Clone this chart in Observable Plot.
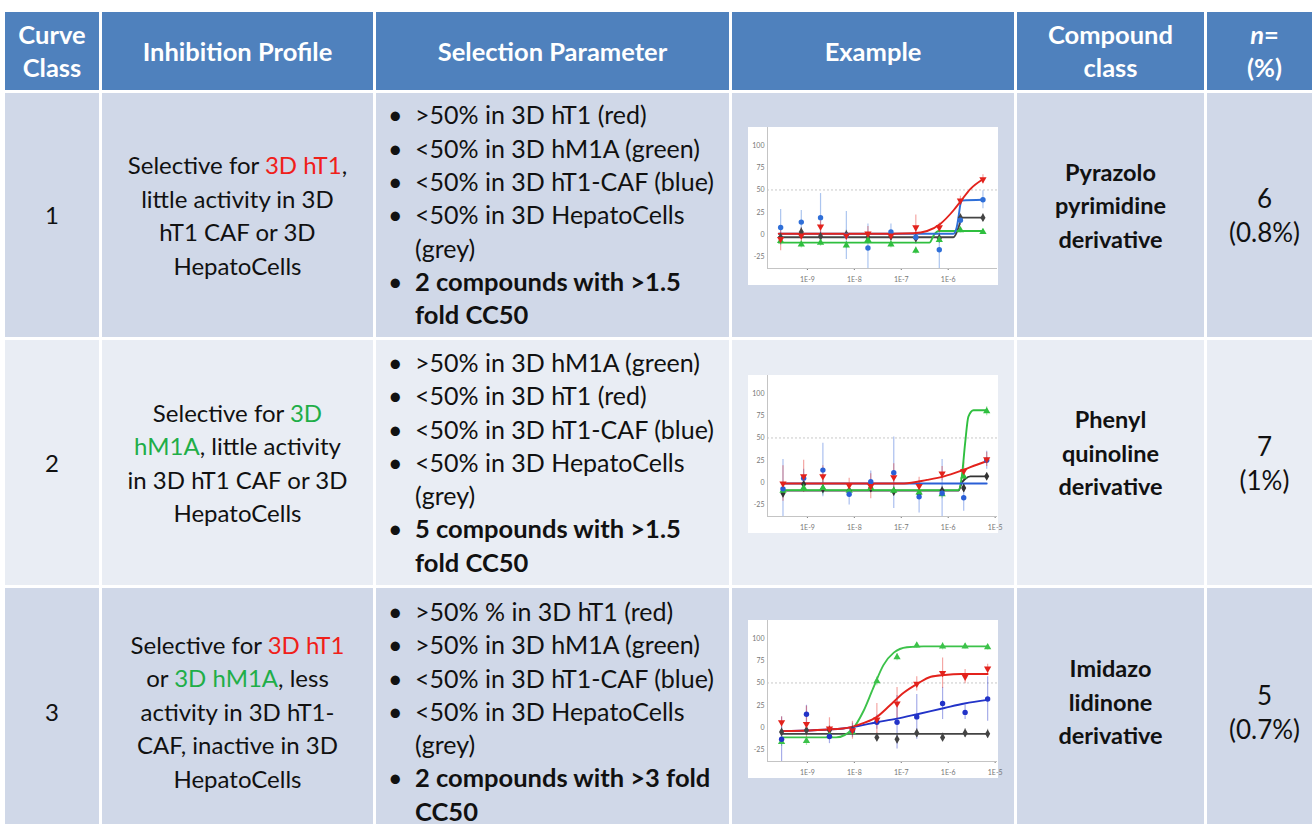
<!DOCTYPE html>
<html><head><meta charset="utf-8">
<script src="https://cdn.jsdelivr.net/npm/d3@7"></script>
<script src="https://cdn.jsdelivr.net/npm/@observablehq/plot@0.6"></script>
<style>
body{margin:0;width:1312px;height:824px;overflow:hidden;background:#fff;font-family:Lato,"Open Sans",sans-serif;position:relative;}
.cell{position:absolute;display:flex;align-items:center;justify-content:center;text-align:center;box-sizing:border-box;}
.hd{background:#4f81bd;color:#fff;font-weight:bold;font-size:25.5px;line-height:33px;}
.r1,.r3{background:#d0d8e8}
.r2{background:#e9edf4}
.txt{font-size:24px;line-height:33.5px;color:#111;white-space:nowrap;}
.list{justify-content:flex-start;text-align:left;font-size:25px;line-height:33.3px;}
.list b{font-size:25.5px}
.comp{padding-bottom:18px;font-size:23.5px}
.num{font-size:26px;line-height:34px}
.li{position:relative;padding-left:39px}
.li::before{content:"•";position:absolute;left:12px}
.b{font-weight:bold}
.red{color:#f0201a}.green{color:#1fae48}
.chart{position:absolute;left:748px;}
</style></head><body>
<script>
// ---------- Table text ----------
const headers = ["Curve<br>Class","Inhibition Profile","Selection Parameter","Example","Compound<br>class","<i>n</i>=<br>(%)"];
const curveClass = ["1","2","3"];
const profiles = [
  'Selective for <span class="red">3D hT1</span>,<br>little activity in 3D<br>hT1 CAF or 3D<br>HepatoCells',
  'Selective for <span class="green">3D</span><br><span class="green">hM1A</span>, little activity<br>in 3D hT1 CAF or 3D<br>HepatoCells',
  'Selective for <span class="red">3D hT1</span><br>or <span class="green">3D hM1A</span>, less<br>activity in 3D hT1-<br>CAF, inactive in 3D<br>HepatoCells'
];
const params = [
  [">50% in 3D hT1 (red)","&lt;50% in 3D hM1A (green)","&lt;50% in 3D hT1-CAF (blue)","&lt;50% in 3D HepatoCells<br>(grey)","<b>2 compounds with &gt;1.5<br>fold CC50</b>"],
  [">50% in 3D hM1A (green)","&lt;50% in 3D hT1 (red)","&lt;50% in 3D hT1-CAF (blue)","&lt;50% in 3D HepatoCells<br>(grey)","<b>5 compounds with &gt;1.5<br>fold CC50</b>"],
  [">50% % in 3D hT1 (red)",">50% in 3D hM1A (green)","&lt;50% in 3D hT1-CAF (blue)","&lt;50% in 3D HepatoCells<br>(grey)","<b>2 compounds with &gt;3 fold<br>CC50</b>"]
];
const compounds = ["Pyrazolo<br>pyrimidine<br>derivative","Phenyl<br>quinoline<br>derivative","Imidazo<br>lidinone<br>derivative"];
const counts = ["6<br>(0.8%)","7<br>(1%)","5<br>(0.7%)"];

// ---------- Chart data (log10 concentration, % inhibition) ----------
const dose1 = [-9.57,-9.13,-8.72,-8.17,-7.71,-7.22,-6.69,-6.19,-5.74,-5.26];
const red1  = [-5,-1,9,-1,1,-1,8,8,38,62];
const green1= [-7,-11,-9,-12,-6,-11,-18,-6,5,3];
const blue1 = [8,14,19,-1,-15,3,-3,-17,16,39];
const grey1 = [-3,3,-2,0,-3,-2,-4,-4,19,19];
const redErr1  = [13,8,10,5,8,5,14,5,5,5];
const greenErr1= [4,4,4,4,4,4,4,4,3,3];
const blueErr1 = [20,13,27,27,27,9,8,24,6,10];
const greyErr1 = [5,5,5,5,5,5,5,5,4,4];
const redFit1  = [[-9.61,1],[-7.2,1],[-6.74,1.5],[-6.45,4],[-6.17,12],[-5.89,27],[-5.74,37],[-5.53,51],[-5.26,62]];
const greenFit1= [[-9.61,-9],[-6.4,-9],[-6.3,0],[-6.2,4],[-5.26,4]];
const blueFit1 = [[-9.61,1],[-5.89,1],[-5.82,8],[-5.78,20],[-5.74,34],[-5.71,38],[-5.26,39]];
const greyFit1 = [[-9.61,-3],[-5.89,-3],[-5.78,8],[-5.71,19],[-5.26,19]];
const ticks1 = [-9,-8,-7,-6];

const dose2 = [-9.52,-9.08,-8.67,-8.11,-7.65,-7.16,-6.62,-6.13,-5.67,-5.18];
const red2  = [-1,7,7,-3,-4,6,-4,10,13,26];
const green2= [-9,-6,-6,-9,-6,-9,-11,-13,7,80];
const blue2 = [-7,5,14,-13,1,11,-16,-12,-17,25];
const grey2 = [-12,-2,-7,-9,-6,-10,-13,-9,-6,7];
const redErr2  = [20,18,12,8,14,15,10,8,10,8];
const greenErr2= [5,4,8,4,4,4,5,5,6,5];
const blueErr2 = [33,10,30,12,12,40,18,38,15,10];
const greyErr2 = [5,5,5,5,5,5,5,5,5,4];
const redFit2  = [[-9.52,-1],[-6.94,-1],[-6.45,3],[-6.09,7],[-5.74,13],[-5.39,20],[-5.18,24]];
const greenFit2= [[-9.52,-8.5],[-5.78,-8.5],[-5.71,7],[-5.64,44],[-5.57,74],[-5.46,81],[-5.18,81]];
const blueFit2 = [[-9.52,-1],[-5.18,-1]];
const greyFit2 = [[-9.52,-9],[-5.78,-9],[-5.71,0],[-5.64,4],[-5.53,7],[-5.18,7]];
const ticks2 = [-9,-8,-7,-6,-5];

const dose3 = [-9.55,-9.02,-8.53,-8.04,-7.52,-7.09,-6.67,-6.12,-5.64,-5.16];
const red3  = [6,4,-1,-3,9,27,49,61,57,66];
const green3= [-16,-15,-9,-5,52,79,92,91,91,90];
const blue3 = [-13,15,-10,-3,6,6,12,27,17,32];
const grey3 = [-5,-3,-3,-3,-11,-13,-6,-11,-6,-7];
const redErr3  = [6,20,12,10,18,18,8,17,8,5];
const greenErr3= [5,5,4,4,5,4,3,4,3,3];
const blueErr3 = [25,10,8,8,8,30,25,18,8,25];
const greyErr3 = [5,5,5,5,5,5,5,5,5,5];
const redFit3  = [[-9.55,-4],[-8.24,-1],[-7.81,5],[-7.52,12],[-7.24,25],[-6.95,39],[-6.66,49],[-6.37,57],[-6.08,59],[-5.72,60],[-5.16,60]];
const greenFit3= [[-9.55,-11],[-8.39,-11],[-8.03,-1],[-7.81,18],[-7.6,44],[-7.38,70],[-7.16,84],[-6.88,90],[-6.52,91],[-5.16,91]];
const blueFit3 = [[-9.55,-4],[-8.24,-1],[-7.52,6],[-7.09,10],[-6.66,15],[-6.08,22],[-5.65,27],[-5.16,31]];
const greyFit3 = [[-9.55,-7],[-5.16,-7]];
const ticks3 = [-9,-8,-7,-6,-5];

// ---------- Layout ----------
const cols = [[5,94],[102,271],[376,353],[732,282],[1017,187],[1207,115]];
const rows = [[12,78],[93,244],[340,245],[588,247]];
const chartTops = [127,375,620];

function cell(c, r, cls, html) {
  const d = document.createElement("div");
  d.className = "cell " + cls;
  d.style.left = cols[c][0] + "px"; d.style.width = cols[c][1] + "px";
  d.style.top = rows[r][0] + "px"; d.style.height = rows[r][1] + "px";
  d.innerHTML = html;
  document.body.appendChild(d);
  return d;
}
headers.forEach((h, i) => cell(i, 0, "hd", "<div>" + h + "</div>"));
for (let r = 0; r < 3; r++) {
  const rc = "r" + (r + 1) + " txt";
  cell(0, r + 1, rc, "<div>" + curveClass[r] + "</div>");
  cell(1, r + 1, rc, "<div>" + profiles[r] + "</div>");
  cell(2, r + 1, rc + " list", "<div>" + params[r].map(p => '<div class="li">' + p + "</div>").join("") + "</div>");
  cell(3, r + 1, rc, "");
  cell(4, r + 1, rc + " b comp", "<div>" + compounds[r] + "</div>");
  cell(5, r + 1, rc + " num", "<div>" + counts[r] + "</div>");
}

const COLS = [
  {red: "#e3221c", green: "#2fbf3f", blue: "#2f6fd8", grey: "#444"},
  {red: "#e3221c", green: "#2fbf3f", blue: "#2a5fd6", grey: "#333"},
  {red: "#e3221c", green: "#3cc24a", blue: "#2233c8", grey: "#444"}
];
function series(dose, vals, errs, key) {
  return dose.map((x, i) => ({x, y: vals[i], e: errs[i], key}));
}
function makeChart(COL, dose, red, green, blue, grey, eR, eG, eB, eK, fR, fG, fB, fK, ticks) {
  const S = {
    grey: series(dose, grey, eK, "grey"), green: series(dose, green, eG, "green"),
    blue: series(dose, blue, eB, "blue"), red: series(dose, red, eR, "red")
  };
  const fits = {grey: fK, green: fG, blue: fB, red: fR};
  const sym = {grey: "diamond", green: "triangle", blue: "circle", red: "triangle"};
  const marks = [
    Plot.ruleY([50], {stroke: "#c8c8c8", strokeDasharray: "2,2"}),
    Plot.ruleX([-9.85], {stroke: "#c4c4c4"}),
    Plot.ruleY([-38], {stroke: "#c4c4c4"})
  ];
  for (const k of ["grey", "green", "blue", "red"]) {
    marks.push(Plot.ruleX(S[k], {x: "x", y1: d => d.y - d.e, y2: d => d.y + d.e, stroke: COL[k], strokeOpacity: 0.4, strokeWidth: 1.2, clip: true}));
  }
  for (const k of ["grey", "green", "blue", "red"]) {
    marks.push(Plot.line(fits[k], {x: d => d[0], y: d => d[1], stroke: COL[k], strokeWidth: 1.9, curve: "monotone-x"}));
  }
  for (const k of ["grey", "green", "blue", "red"]) {
    marks.push(Plot.dot(S[k], {x: "x", y: "y", r: 2.7, fill: COL[k], symbol: sym[k], rotate: k === "red" ? 180 : 0}));
  }
  return Plot.plot({
    width: 250, height: 158, marginLeft: 19, marginRight: 1, marginTop: 0, marginBottom: 17,
    x: {domain: [-9.85, -4.95], ticks, tickFormat: d => "1E" + d, tickSize: 2, label: null},
    y: {domain: [-38, 120], ticks: [-25, 0, 25, 50, 75, 100], tickFormat: d => String(d), tickSize: 0, tickPadding: 3, label: null},
    style: {background: "white", fontSize: "7px", color: "#777", fontFamily: "Lato, sans-serif", overflow: "visible"},
    marks
  });
}
const charts = [
  makeChart(COLS[0], dose1, red1, green1, blue1, grey1, redErr1, greenErr1, blueErr1, greyErr1, redFit1, greenFit1, blueFit1, greyFit1, ticks1),
  makeChart(COLS[1], dose2, red2, green2, blue2, grey2, redErr2, greenErr2, blueErr2, greyErr2, redFit2, greenFit2, blueFit2, greyFit2, ticks2),
  makeChart(COLS[2], dose3, red3, green3, blue3, grey3, redErr3, greenErr3, blueErr3, greyErr3, redFit3, greenFit3, blueFit3, greyFit3, ticks3)
];
charts.forEach((c, i) => {
  const w = document.createElement("div");
  w.className = "chart";
  w.style.top = chartTops[i] + "px";
  w.appendChild(c);
  document.body.appendChild(w);
});
</script>
</body></html>
